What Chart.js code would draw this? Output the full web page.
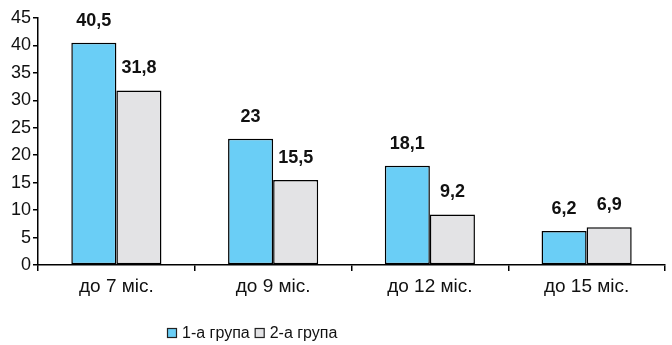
<!DOCTYPE html>
<html>
<head>
<meta charset="utf-8">
<script src="https://cdn.jsdelivr.net/npm/chart.js@4/dist/chart.umd.min.js"></script>
<style>
  html, body { margin: 0; padding: 0; background: #fff; }
  #wrap { width: 672px; height: 345px; position: relative; }
</style>
</head>
<body>
<div id="wrap"><canvas id="c" width="672" height="345"></canvas></div>
<script>
const categories = ['до 7 міс.', 'до 9 міс.', 'до 12 міс.', 'до 15 міс.'];
const group1 = [40.5, 23, 18.1, 6.2];
const group2 = [31.8, 15.5, 9.2, 6.9];
const seriesNames = ['1-а група', '2-а група'];
const yTicks = [0, 5, 10, 15, 20, 25, 30, 35, 40, 45];

const FONT = '"Liberation Sans", Arial, sans-serif';

// Value labels above each bar, decimal comma
const valueLabels = {
  id: 'valueLabels',
  afterDatasetsDraw(chart) {
    const ctx = chart.ctx;
    ctx.save();
    ctx.font = 'bold 18px ' + FONT;
    ctx.fillStyle = '#111';
    ctx.textAlign = 'center';
    ctx.textBaseline = 'middle';
    chart.data.datasets.forEach((ds, di) => {
      chart.getDatasetMeta(di).data.forEach((bar, i) => {
        const txt = String(ds.data[i]).replace('.', ',');
        ctx.fillText(txt, bar.x, bar.y - 22);
      });
    });
    ctx.restore();
  }
};

// Legend row under the axis
const bottomLegend = {
  id: 'bottomLegend',
  afterDraw(chart) {
    const ctx = chart.ctx;
    ctx.save();
    ctx.font = '16px ' + FONT;
    ctx.textBaseline = 'middle';
    let x = 167;
    const y = 333;
    chart.data.datasets.forEach((ds) => {
      ctx.fillStyle = ds.backgroundColor;
      ctx.fillRect(x, y - 5, 10, 10);
      ctx.strokeStyle = '#222';
      ctx.lineWidth = 1.2;
      ctx.strokeRect(x + 0.5, y - 4.5, 9, 9);
      ctx.fillStyle = '#111';
      ctx.textAlign = 'left';
      ctx.fillText(ds.label, x + 15, y + 1);
      x += 15 + ctx.measureText(ds.label).width + 5;
    });
    ctx.restore();
  }
};

new Chart(document.getElementById('c'), {
  type: 'bar',
  data: {
    labels: categories,
    datasets: [
      { label: seriesNames[0], data: group1, backgroundColor: '#6ACEF6', borderColor: '#000', borderWidth: 1.5, borderSkipped: false },
      { label: seriesNames[1], data: group2, backgroundColor: '#E3E3E5', borderColor: '#000', borderWidth: 1.5, borderSkipped: false }
    ]
  },
  options: {
    responsive: false,
    animation: false,
    layout: { padding: { top: 18, right: 7, left: 0, bottom: 0 } },
    datasets: { bar: { categoryPercentage: 0.575, barPercentage: 1 } },
    plugins: { legend: { display: false }, tooltip: { enabled: false } },
    scales: {
      x: {
        grid: { display: true, offset: true, drawOnChartArea: false, drawTicks: true, tickLength: 6, color: '#000', lineWidth: 1.5 },
        border: { display: true, color: '#000', width: 1.5 },
        ticks: { color: '#111', font: { family: FONT, size: 19 }, padding: 4 },
        afterFit(scale) { scale.height = 80; }
      },
      y: {
        min: 0, max: 45,
        afterBuildTicks(scale) { scale.ticks = yTicks.map(v => ({ value: v })); },
        grid: { display: true, drawOnChartArea: false, drawTicks: true, tickLength: 5, color: '#000', lineWidth: 1.5 },
        border: { display: true, color: '#000', width: 1.5 },
        ticks: { color: '#111', font: { family: FONT, size: 18 }, padding: 2 },
        afterFit(scale) { scale.width = 38; }
      }
    }
  },
  plugins: [valueLabels, bottomLegend]
});
</script>
</body>
</html>
